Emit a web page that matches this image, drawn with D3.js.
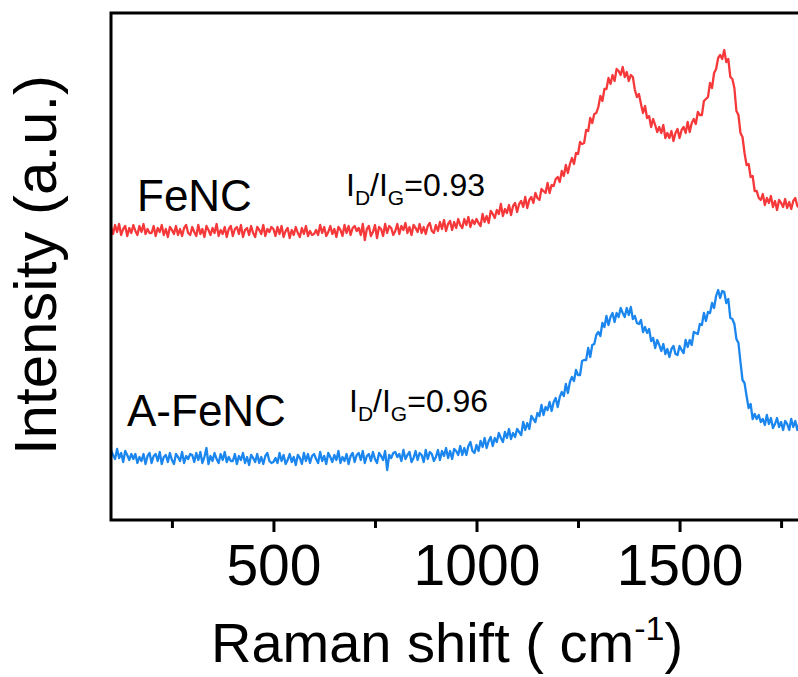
<!DOCTYPE html>
<html>
<head>
<meta charset="utf-8">
<script src="https://cdn.jsdelivr.net/npm/d3@7"></script>
<style>
  body { margin: 0; background: #fff; }
  svg { display: block; }
  text { font-family: "Liberation Sans", Arial, sans-serif; fill: #000; }
</style>
</head>
<body>
<svg id="draw"></svg>
<script>
var shiftStart = 100, shiftStep = 5;

var fencValues = [
  293,286,295,288,296,285,291,294,284,292,287,295,289,285,294,288,296,286,291,287,
  287,294,284,292,288,295,285,291,283,293,290,286,294,285,291,284,292,295,287,285,
  293,288,284,295,286,291,283,294,290,285,292,287,296,284,290,286,293,283,291,294,
  284,291,293,286,295,283,290,292,285,294,287,283,293,290,286,295,284,291,288,293,
  291,284,293,286,294,283,289,292,282,290,285,293,287,283,292,286,294,284,289,285,
  286,290,285,295,287,293,284,288,294,286,291,283,293,290,284,295,287,294,285,292,
  294,289,292,285,296,280,291,294,284,288,295,282,293,291,284,296,287,294,292,285,
  289,296,286,294,290,297,287,293,285,295,292,288,296,287,293,286,294,297,289,287,
  295,289,298,291,300,289,296,299,290,298,292,301,295,292,301,295,303,293,300,296,
  301,297,294,306,298,304,297,309,306,302,310,306,316,304,311,307,315,305,314,317,
  308,316,319,313,323,312,320,323,317,327,322,320,331,329,327,337,327,335,334,341,
  343,338,349,344,355,347,356,362,356,367,366,378,376,377,390,389,402,397,406,407,
  413,424,419,431,431,442,436,445,439,451,449,445,453,443,448,439,445,443,430,423,
  426,416,407,414,402,404,393,401,395,388,393,387,395,382,387,382,389,379,387,391,
  382,390,393,387,398,388,397,401,396,408,405,405,419,421,423,437,432,447,451,462,
  465,461,470,458,461,443,441,432,409,405,387,383,367,355,356,343,344,329,329,322,
  320,326,315,322,317,324,313,319,310,320,317,313,321,312,318,311,319,322,314,312,
  316
];

var afencValues = [
  70,65,61,71,62,67,58,69,65,60,66,61,66,57,63,59,66,56,64,67,
  57,64,66,59,68,56,63,65,58,67,60,56,66,63,59,68,57,64,61,66,
  65,58,67,60,68,57,63,72,56,64,59,67,61,57,66,60,68,58,63,59,
  59,66,56,64,60,67,57,63,55,65,62,58,66,57,63,56,64,67,59,57,
  58,62,57,67,59,65,56,60,66,58,63,55,65,62,56,67,59,66,57,64,
  66,61,57,68,59,64,56,67,63,58,65,60,69,57,63,59,66,56,64,67,
  58,65,67,60,69,57,64,66,59,68,61,57,67,64,60,69,50,65,62,67,
  68,63,66,59,70,61,65,68,58,62,69,60,67,65,58,70,61,68,66,59,
  63,70,60,69,64,72,62,69,61,71,69,65,74,65,72,65,74,78,69,67,
  75,69,79,73,82,72,79,83,74,82,78,87,82,78,88,82,91,81,87,83,
  91,88,85,98,90,97,91,104,101,98,107,104,115,105,113,110,118,109,118,122,
  113,123,128,124,136,127,138,143,139,150,145,145,159,160,160,172,163,175,176,185,
  188,184,197,193,204,195,203,207,198,207,203,212,207,203,212,205,213,201,204,197,
  196,200,188,193,187,191,179,182,172,180,175,169,176,166,171,163,171,174,166,165,
  174,170,167,180,173,180,175,188,187,186,196,195,207,199,208,207,217,212,224,230,
  222,229,228,217,221,202,201,196,181,177,158,140,137,124,112,116,101,106,101,105,
  98,101,95,105,96,102,92,96,102,93,98,90,99,96,90,101,93,99,90,97,
  95
];

var seriesNames = ["FeNC", "A-FeNC"];
var seriesColors = ["#f5393b", "#1a86ee"];
var ratioLabels = ["0.93", "0.96"];
var majorTicks = [500, 1000, 1500];
var minorTicks = [250, 750, 1250, 1750];

var margin = { top: 13, right: 0, bottom: 157, left: 111 };
var W = 798, H = 677;
var width = 731;               // frame runs past the right edge of the picture
var height = H - margin.top - margin.bottom;

var svg = d3.select("#draw")
  .attr("width", W)
  .attr("height", H)
  .append("g")
  .attr("transform", "translate(" + margin.left + "," + margin.top + ")");

var xScale = d3.scaleLinear()
  .domain([100, 1900])
  .range([0, width]);

var yScale = d3.scaleLinear()
  .domain([0, 507])
  .range([height, 0]);

function toPoints(values) {
  return values.map(function(v, i) {
    return { x: shiftStart + i * shiftStep, y: v };
  });
}

var line = d3.line()
  .x(function(d) { return xScale(d.x); })
  .y(function(d) { return yScale(d.y); });

[fencValues, afencValues].forEach(function(vals, i) {
  svg.append("path")
    .datum(toPoints(vals))
    .attr("fill", "none")
    .attr("stroke", seriesColors[i])
    .attr("stroke-width", 2.3)
    .attr("stroke-linejoin", "round")
    .attr("d", line);
});

// frame
svg.append("rect")
  .attr("x", 0).attr("y", 0)
  .attr("width", width).attr("height", height)
  .attr("fill", "none")
  .attr("stroke", "#000")
  .attr("stroke-width", 3);

// minor ticks
var minorAxis = svg.append("g")
  .attr("transform", "translate(0," + height + ")")
  .call(d3.axisBottom(xScale).tickValues(minorTicks).tickSize(8).tickFormat(""));

// major ticks + labels
var majorAxis = svg.append("g")
  .attr("transform", "translate(0," + height + ")")
  .call(d3.axisBottom(xScale).tickValues(majorTicks).tickSize(12).tickPadding(13)
    .tickFormat(d3.format("d")));

[minorAxis, majorAxis].forEach(function(g) {
  g.select(".domain").remove();
  g.selectAll("line").attr("stroke-width", 3);
});
majorAxis.selectAll("text")
  .style("font-family", '"Liberation Sans", Arial, sans-serif')
  .style("font-size", "57px")
  .attr("fill", "#000");

// x title
var xt = svg.append("text")
  .attr("x", 447 - margin.left)
  .attr("y", 662 - margin.top)
  .attr("text-anchor", "middle")
  .style("font-size", "56px");
xt.append("tspan").text("Raman shift ( cm");
xt.append("tspan").attr("dy", -22).style("font-size", "34px").text("-1");
xt.append("tspan").attr("dy", 22).text(")");

// y title
svg.append("text")
  .attr("transform", "translate(" + (56 - margin.left) + "," + (265 - margin.top) + ") rotate(-90)")
  .attr("text-anchor", "middle")
  .style("font-size", "60px")
  .text("Intensity (a.u.)");

// sample names
var nameX = [137, 127], nameY = [211, 426];
seriesNames.forEach(function(n, i) {
  svg.append("text")
    .attr("x", nameX[i] - margin.left)
    .attr("y", nameY[i] - margin.top)
    .style("font-size", "44px")
    .text(n);
});

// ID/IG ratios
var ratioX = [346, 349], ratioY = [196, 412];
ratioLabels.forEach(function(r, i) {
  var t = svg.append("text")
    .attr("x", ratioX[i] - margin.left)
    .attr("y", ratioY[i] - margin.top)
    .style("font-size", "32px");
  t.append("tspan").text("I");
  t.append("tspan").attr("dy", 9).style("font-size", "21px").text("D");
  t.append("tspan").attr("dy", -9).text("/I");
  t.append("tspan").attr("dy", 9).style("font-size", "21px").text("G");
  t.append("tspan").attr("dy", -9).text("=" + r);
});
</script>
</body>
</html>
